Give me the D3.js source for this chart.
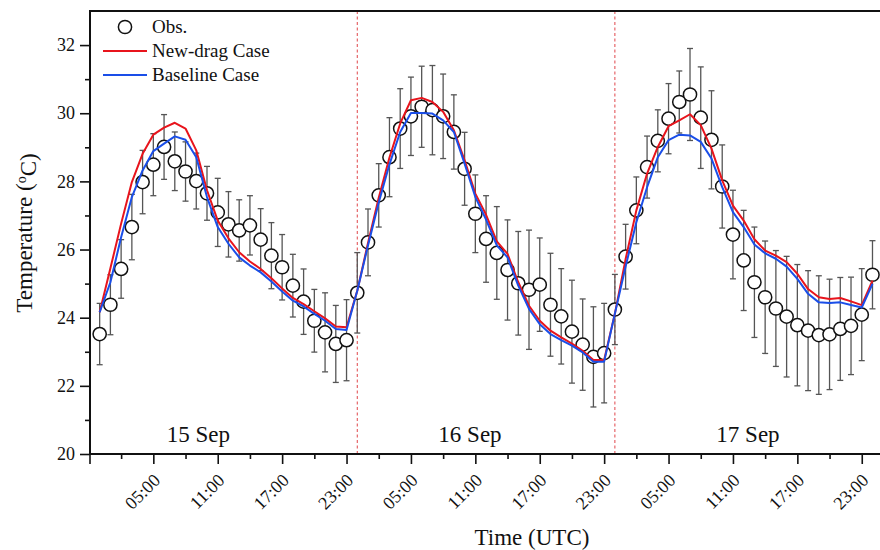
<!DOCTYPE html>
<html><head><meta charset="utf-8">
<script src="https://cdn.jsdelivr.net/npm/d3@7"></script>
<style>
body{margin:0;background:#fff}
svg{display:block}
text{font-family:"Liberation Serif","Times New Roman",serif;fill:#111}
</style>
</head><body>
<svg id="chart" width="880" height="550"></svg>
<script>
// ---- data (hourly, 15 Sep 00:00 UTC = hour 0) ----
const hours = d3.range(0, 73);
const obs = [23.52,24.38,25.43,26.66,27.98,28.49,29.01,28.59,28.29,28.01,27.65,27.09,26.74,26.56,26.71,26.29,25.82,25.48,24.94,24.47,23.91,23.57,23.23,23.34,
  24.73,26.21,27.59,28.71,29.55,29.91,30.19,30.09,29.91,29.45,28.37,27.05,26.31,25.90,25.40,25.01,24.82,24.97,24.38,24.04,23.59,23.21,22.85,22.96,
  24.24,25.79,27.15,28.42,29.19,29.84,30.33,30.55,29.87,29.22,27.85,26.44,25.68,25.04,24.60,24.27,24.03,23.78,23.62,23.49,23.51,23.67,23.76,24.09,25.26];
const obsErr = [0.90,0.88,0.86,0.96,0.93,0.91,0.95,0.86,0.87,0.82,0.79,1.00,0.96,0.90,0.87,0.91,0.97,0.96,0.92,0.96,0.92,1.16,1.13,1.19,
  1.18,0.98,0.93,1.16,1.17,1.15,1.19,1.31,1.24,1.09,1.07,1.14,1.27,1.36,1.47,1.52,1.75,1.37,1.51,1.40,1.51,1.34,1.47,1.46,
  1.03,0.95,0.98,0.91,0.91,1.03,0.91,1.35,1.49,1.44,1.22,1.30,1.47,1.62,1.65,1.70,1.77,1.78,1.76,1.74,1.62,1.51,1.43,1.35,1.00];
const newDrag = [24.16,25.45,26.76,27.98,28.81,29.37,29.58,29.72,29.55,28.91,27.74,26.85,26.33,25.92,25.65,25.43,25.16,24.86,24.58,24.40,24.19,23.98,23.74,23.72,
  24.79,26.19,27.52,28.70,29.70,30.38,30.45,30.33,30.04,29.50,28.62,27.64,27.02,26.24,25.87,25.04,24.35,23.91,23.62,23.42,23.24,23.03,22.76,22.76,
  24.12,25.72,27.15,28.23,29.01,29.62,29.79,29.97,29.65,28.96,28.03,27.29,26.85,26.30,25.97,25.82,25.63,25.29,24.84,24.60,24.55,24.58,24.48,24.37,25.09];
const baseline = [24.16,25.04,26.36,27.54,28.32,28.89,29.11,29.32,29.22,28.71,27.54,26.66,26.17,25.77,25.53,25.33,25.06,24.77,24.50,24.33,24.11,23.91,23.67,23.64,
  24.79,26.12,27.38,28.50,29.45,30.01,30.01,29.99,29.79,29.45,28.52,27.54,26.88,26.12,25.77,24.94,24.26,23.81,23.52,23.34,23.18,22.98,22.71,22.71,
  24.12,25.50,26.80,27.83,28.71,29.21,29.37,29.35,29.16,28.67,27.83,27.10,26.66,26.15,25.89,25.73,25.50,25.14,24.70,24.45,24.43,24.45,24.37,24.30,24.99];
const seriesNames = ["Obs.", "New-drag Case", "Baseline Case"];
const seriesColors = ["#111111", "#e8141c", "#1a4ee8"];
const yMajorTicks = [20, 22, 24, 26, 28, 30, 32];
const yMinorTicks = [21, 23, 25, 27, 29, 31];
const xMajorTicks = [5, 11, 17, 23, 29, 35, 41, 47, 53, 59, 65, 71];
const xMinorTicks = [2, 8, 14, 20, 26, 32, 38, 44, 50, 56, 62, 68];
const xTickLabels = ["05:00","11:00","17:00","23:00","05:00","11:00","17:00","23:00","05:00","11:00","17:00","23:00"];
const dayBoundaries = [24, 48];
const dayLabels = ["15 Sep", "16 Sep", "17 Sep"];
const dayLabelHours = [9.2, 34.5, 60.4];

// ---- layout ----
const svg = d3.select("#chart");
const L = 90, R = 880, T = 11, B = 454;
const x = d3.scaleLinear().domain([-0.9, 72.7]).range([L, R]);
const y = d3.scaleLinear().domain([20, 33]).range([B, T]);

svg.append("rect").attr("width", 880).attr("height", 550).attr("fill", "#fff");

// day separators
svg.selectAll(".sep").data(dayBoundaries).join("line")
  .attr("x1", d => x(d)).attr("x2", d => x(d)).attr("y1", T).attr("y2", B)
  .attr("stroke", "#e0464a").attr("stroke-width", 1).attr("stroke-dasharray", "3,2.5");

// day labels
svg.selectAll(".day").data(dayLabels).join("text")
  .attr("x", (d, i) => x(dayLabelHours[i])).attr("y", 442)
  .attr("text-anchor", "middle").style("font-size", "23px").text(d => d);

// error bars
const eb = svg.append("g").attr("stroke", "#555").attr("stroke-width", 1.3);
hours.forEach((h, i) => {
  const cx = x(h), y1 = y(obs[i] + obsErr[i]), y2 = y(obs[i] - obsErr[i]);
  eb.append("line").attr("x1", cx).attr("x2", cx).attr("y1", y1).attr("y2", y2);
  eb.append("line").attr("x1", cx - 3).attr("x2", cx + 3).attr("y1", y1).attr("y2", y1);
  eb.append("line").attr("x1", cx - 3).attr("x2", cx + 3).attr("y1", y2).attr("y2", y2);
});

// obs circles
svg.append("g").selectAll("circle").data(hours).join("circle")
  .attr("cx", h => x(h)).attr("cy", (h, i) => y(obs[i])).attr("r", 6.6)
  .attr("fill", "#fff").attr("stroke", "#111").attr("stroke-width", 1.5);

// model lines
const line = arr => d3.line().x((d, i) => x(hours[i])).y(d => y(d))(arr);
svg.append("path").attr("d", line(newDrag)).attr("fill", "none")
  .attr("stroke", seriesColors[1]).attr("stroke-width", 2).attr("stroke-linejoin", "round");
svg.append("path").attr("d", line(baseline)).attr("fill", "none")
  .attr("stroke", seriesColors[2]).attr("stroke-width", 2).attr("stroke-linejoin", "round");

// ---- axes ----
// y axis
const yAx = svg.append("g").attr("transform", `translate(${L},0)`)
  .call(d3.axisLeft(y).tickValues(yMajorTicks).tickSize(10).tickPadding(5).tickFormat(d3.format("d")));
svg.append("g").attr("transform", `translate(${L},0)`)
  .call(d3.axisLeft(y).tickValues(yMinorTicks).tickSize(5).tickFormat(""))
  .select(".domain").remove();
yAx.select(".domain").remove();
yAx.selectAll("text").style("font-size", "18px").style("font-family", "Liberation Serif");
svg.selectAll(".tick line").attr("stroke", "#111").attr("stroke-width", 1.6);

// x axis
const xAx = svg.append("g").attr("transform", `translate(0,${B})`)
  .call(d3.axisBottom(x).tickValues(xMajorTicks).tickSize(10).tickFormat((d, i) => xTickLabels[i]));
xAx.select(".domain").remove();
xAx.selectAll("text")
  .attr("x", 0).attr("y", 0).attr("dy", "0.35em")
  .attr("transform", "translate(3,23) rotate(-45)")
  .style("text-anchor", "end").style("font-size", "18px").style("font-family", "Liberation Serif");
const xMin = svg.append("g").attr("transform", `translate(0,${B})`)
  .call(d3.axisBottom(x).tickValues(xMinorTicks).tickSize(5).tickFormat(""));
xMin.select(".domain").remove();
svg.selectAll(".tick line").attr("stroke", "#111").attr("stroke-width", 1.6);
// corner tick at axis start
svg.append("line").attr("x1", L).attr("x2", L).attr("y1", B).attr("y2", B + 10)
  .attr("stroke", "#111").attr("stroke-width", 1.6);

// frame lines (left, bottom, top)
const frame = svg.append("g").attr("stroke", "#111").attr("stroke-width", 2).attr("fill", "none");
frame.append("line").attr("x1", L).attr("x2", L).attr("y1", T).attr("y2", B);
frame.append("line").attr("x1", L - 1).attr("x2", R).attr("y1", B).attr("y2", B);
frame.append("line").attr("x1", L - 1).attr("x2", R).attr("y1", T).attr("y2", T);

// axis titles
svg.append("text").attr("x", (L + R) / 2 + 47).attr("y", 545)
  .attr("text-anchor", "middle").style("font-size", "23px").text("Time (UTC)");
const yt = svg.append("text").attr("transform", "translate(32,233) rotate(-90)")
  .attr("text-anchor", "middle").style("font-size", "23px");
yt.append("tspan").text("Temperature (");
yt.append("tspan").attr("dy", "-0.45em").style("font-size", "14px").text("o");
yt.append("tspan").attr("dy", "0.45em").text("C)");

// ---- legend ----
const lg = svg.append("g");
lg.append("circle").attr("cx", 125).attr("cy", 27).attr("r", 6.6)
  .attr("fill", "#fff").attr("stroke", "#111").attr("stroke-width", 1.5);
[1, 2].forEach((k, j) => {
  lg.append("line").attr("x1", 103).attr("x2", 147).attr("y1", 51 + 24 * j).attr("y2", 51 + 24 * j)
    .attr("stroke", seriesColors[k]).attr("stroke-width", 2);
});
lg.selectAll(".lt").data(seriesNames).join("text")
  .attr("x", 152).attr("y", (d, i) => 33 + 24 * i).style("font-size", "19px").text(d => d);
</script>
</body></html>
